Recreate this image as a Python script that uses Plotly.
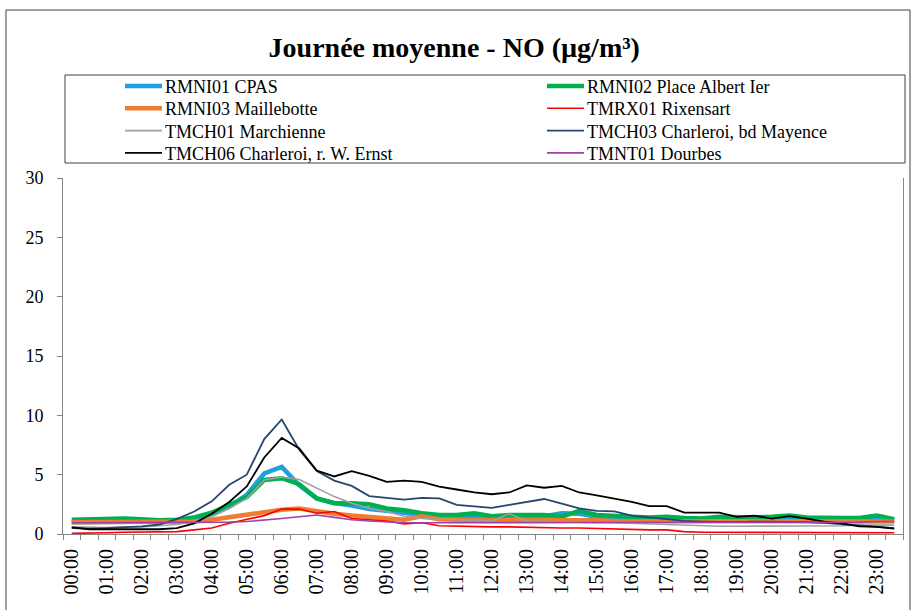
import plotly.graph_objects as go

# Half-hourly time slots of the average day
times = [f"{h:02d}:{m:02d}" for h in range(24) for m in (0, 30)]
hour_labels = [f"{h:02d}:00" for h in range(24)]

rmni01 = [1.0, 1.0, 1.0, 1.05, 1.05, 1.05, 1.1, 1.3,
          1.7, 2.3, 3.3, 5.1, 5.65, 4.1, 3.0, 2.6,
          2.4, 2.1, 1.95, 1.75, 1.6, 1.5, 1.45, 1.5,
          1.45, 1.5, 1.45, 1.5, 1.75, 1.7, 1.45, 1.4,
          1.3, 1.3, 1.25, 1.2, 1.2, 1.25, 1.25, 1.2,
          1.2, 1.25, 1.2, 1.2, 1.2, 1.2, 1.25, 1.15]
rmni02 = [1.2, 1.25, 1.3, 1.3, 1.25, 1.15, 1.2, 1.4,
          1.8, 2.45, 3.1, 4.55, 4.7, 4.2, 3.0, 2.6,
          2.6, 2.5, 2.15, 2.0, 1.75, 1.6, 1.6, 1.75,
          1.5, 1.6, 1.6, 1.6, 1.45, 1.95, 1.6, 1.5,
          1.45, 1.4, 1.45, 1.35, 1.3, 1.45, 1.4, 1.4,
          1.45, 1.55, 1.4, 1.35, 1.35, 1.35, 1.55, 1.25]
rmni03 = [1.0, 1.0, 1.0, 1.0, 1.0, 1.0, 1.0, 1.05,
          1.2, 1.4, 1.6, 1.8, 2.05, 2.15, 1.9, 1.7,
          1.55, 1.45, 1.3, 1.2, 1.5, 1.25, 1.2, 1.2,
          1.15, 1.2, 1.2, 1.15, 1.15, 1.15, 1.15, 1.1,
          1.1, 1.1, 1.1, 1.1, 1.1, 1.1, 1.05, 1.05,
          1.05, 1.05, 1.05, 1.05, 1.05, 1.05, 1.05, 1.05]
tmrx01 = [0.05, 0.05, 0.1, 0.15, 0.15, 0.15, 0.2, 0.35,
          0.5, 0.9, 1.2, 1.55, 2.1, 2.1, 1.75, 1.9,
          1.3, 1.2, 1.1, 0.85, 0.95, 0.7, 0.65, 0.6,
          0.6, 0.6, 0.55, 0.55, 0.5, 0.5, 0.45, 0.4,
          0.4, 0.35, 0.35, 0.2, 0.15, 0.15, 0.15, 0.15,
          0.15, 0.1, 0.1, 0.1, 0.1, 0.1, 0.15, 0.1]
tmch01 = [0.6, 0.55, 0.55, 0.6, 0.6, 0.7, 0.8, 1.05,
          1.45, 2.15, 3.0, 4.55, 4.8, 4.6, 3.85, 3.15,
          2.6, 2.15, 1.9, 1.5, 1.3, 1.25, 1.2, 1.15,
          1.1, 1.7, 1.1, 1.05, 1.0, 1.0, 0.95, 0.95,
          0.9, 0.85, 0.8, 0.75, 0.65, 0.65, 0.65, 0.65,
          0.65, 0.65, 0.65, 0.7, 0.7, 0.75, 0.75, 0.75]
tmch03 = [0.5, 0.45, 0.5, 0.55, 0.65, 0.8, 1.25, 1.9,
          2.75, 4.15, 5.0, 8.0, 9.65, 7.1, 5.3, 4.5,
          4.05, 3.2, 3.05, 2.9, 3.05, 3.0, 2.45, 2.3,
          2.2, 2.45, 2.7, 2.95, 2.55, 2.15, 1.95, 1.9,
          1.55, 1.4, 1.25, 1.1, 1.05, 1.0, 1.0, 1.05,
          1.05, 1.0, 1.0, 0.95, 0.85, 0.7, 0.6, 0.5]
tmch06 = [0.55, 0.4, 0.4, 0.4, 0.4, 0.4, 0.5, 0.9,
          1.7, 2.7, 4.0, 6.45, 8.1, 7.2, 5.35, 4.85,
          5.3, 4.9, 4.4, 4.5, 4.4, 4.0, 3.75, 3.5,
          3.35, 3.5, 4.1, 3.9, 4.05, 3.5, 3.25, 3.0,
          2.7, 2.35, 2.35, 1.8, 1.8, 1.8, 1.45, 1.55,
          1.3, 1.5, 1.3, 1.05, 0.9, 0.65, 0.6, 0.45]
tmnt01 = [0.95, 0.95, 0.95, 0.95, 0.95, 0.95, 0.95, 0.95,
          0.95, 1.0, 1.05, 1.15, 1.3, 1.45, 1.6, 1.4,
          1.2, 1.1, 1.0, 0.95, 0.95, 0.95, 0.95, 0.95,
          1.0, 1.0, 1.0, 1.0, 1.0, 0.95, 0.95, 0.95,
          0.95, 0.95, 1.0, 1.0, 1.0, 1.0, 1.0, 1.0,
          1.0, 1.0, 1.0, 1.0, 1.0, 1.0, 1.05, 1.05]

series = [
    ("RMNI01 CPAS", rmni01, "#1fa1e0", 4.5),
    ("RMNI02 Place Albert Ier", rmni02, "#00b050", 4.5),
    ("RMNI03 Maillebotte", rmni03, "#ed7d31", 4.5),
    ("TMRX01 Rixensart", tmrx01, "#ff0000", 1.6),
    ("TMCH01 Marchienne", tmch01, "#a0a0a0", 1.6),
    ("TMCH03 Charleroi, bd Mayence", tmch03, "#27466f", 1.8),
    ("TMCH06 Charleroi, r. W. Ernst", tmch06, "#000000", 1.8),
    ("TMNT01 Dourbes", tmnt01, "#a040a8", 1.6),
]

FONT = "Liberation Serif, Times New Roman, serif"
W, H = 914, 610
ML, MR, MT, MB = 63, 11, 178, 76
PW, PH = W - ML - MR, H - MT - MB


def px_x(x):
    """page pixel column -> paper x"""
    return (x - ML) / PW


def px_y(y):
    """page pixel row -> paper y"""
    return (H - MB - y) / PH


# each slot sits in the middle of its category band
xpos = [i + 0.5 for i in range(len(times))]
label_pos = [times.index(h) + 0.5 for h in hour_labels]

fig = go.Figure()
for name, vals, color, width in series:
    fig.add_trace(go.Scatter(
        x=xpos, y=vals, name=name, mode="lines",
        line=dict(color=color, width=width),
        customdata=times,
        hovertemplate="%{customdata}: %{y}<extra>" + name + "</extra>",
    ))

shapes = [
    # outer chart frame
    dict(type="rect", xref="paper", yref="paper",
         x0=px_x(6), x1=px_x(910), y0=px_y(640), y1=px_y(10),
         line=dict(color="#404040", width=1), fillcolor="rgba(0,0,0,0)",
         layer="below"),
    # legend frame
    dict(type="rect", xref="paper", yref="paper",
         x0=px_x(65), x1=px_x(905), y0=px_y(163), y1=px_y(75),
         line=dict(color="#404040", width=1), fillcolor="rgba(0,0,0,0)"),
]
annotations = []

# two-column legend: line sample followed by the station name
col_x = [125, 547]
for k, (name, vals, color, width) in enumerate(series):
    row, col = divmod(k, 2)
    yc = 86 + 22.3 * row
    x0 = col_x[col]
    shapes.append(dict(type="line", xref="paper", yref="paper",
                       x0=px_x(x0), x1=px_x(x0 + 37), y0=px_y(yc), y1=px_y(yc),
                       line=dict(color=color, width=width)))
    annotations.append(dict(text=name, xref="paper", yref="paper",
                            x=px_x(x0 + 38), y=px_y(yc + 1),
                            xanchor="left", yanchor="middle", showarrow=False,
                            font=dict(family=FONT, size=18, color="black")))

fig.update_layout(
    width=W, height=H,
    margin=dict(l=ML, r=MR, t=MT, b=MB),
    paper_bgcolor="white", plot_bgcolor="white",
    font=dict(family=FONT, color="black", size=16),
    title=dict(text="<b>Journée moyenne - NO (µg/m³)</b>",
               x=0.497, xref="container", xanchor="center",
               y=1 - 47 / H, yref="container", yanchor="middle",
               font=dict(family=FONT, size=28, color="black")),
    showlegend=False,
    xaxis=dict(range=[0, len(times)], tickmode="array", tickvals=label_pos,
               ticktext=hour_labels, tickangle=-90, ticks="",
               ticklabelstandoff=6,
               showline=True, linecolor="#868686", linewidth=1,
               showgrid=False, zeroline=False,
               tickfont=dict(family=FONT, size=20, color="black"),
               minor=dict(tickmode="linear", tick0=0, dtick=1, ticks="outside",
                          ticklen=5, tickcolor="#868686", showgrid=False)),
    yaxis=dict(range=[0, 30], dtick=5, ticks="outside", ticklen=5,
               tickcolor="#868686", showline=True, linecolor="#868686",
               linewidth=1, mirror=True, showgrid=False, zeroline=False,
               ticklabelstandoff=10,
               tickfont=dict(family=FONT, size=18, color="black")),
    shapes=shapes,
    annotations=annotations,
)

fig.write_html("out.html")
